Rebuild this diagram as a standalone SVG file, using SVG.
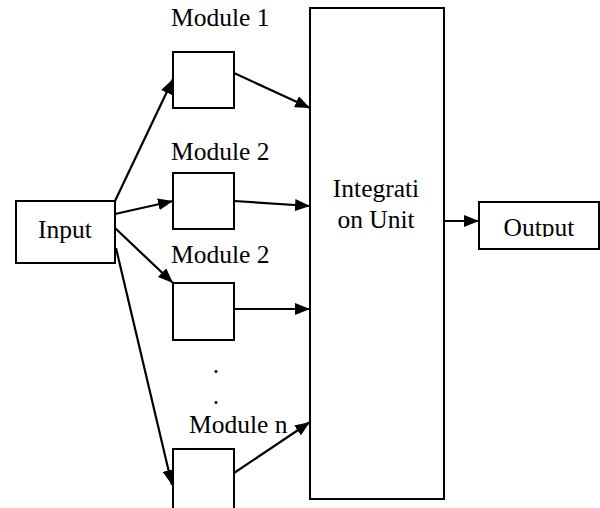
<svg xmlns="http://www.w3.org/2000/svg" width="600" height="508" viewBox="0 0 600 508">
<style>
.box{fill:#fff;stroke:#000;stroke-width:2}
.t{font-family:"Liberation Serif","Times New Roman",serif;font-size:25.5px;fill:#000}
.c{stroke:#000;stroke-width:2.2;fill:none;marker-end:url(#ah)}
</style>
<defs>
<marker id="ah" viewBox="0 0 15 12" refX="15" refY="6" markerWidth="15" markerHeight="12" markerUnits="userSpaceOnUse" orient="auto">
<path d="M0,0 L15,6 L0,12 z" fill="#000"/>
</marker>
<clipPath id="clipOut"><rect x="479" y="202" width="121" height="35"/></clipPath>
</defs>
<rect width="600" height="508" fill="#fff"/>
<g id="connectors">
<line class="c" x1="115" y1="201" x2="173" y2="79"/>
<line class="c" x1="115" y1="214" x2="173" y2="201"/>
<line class="c" x1="115" y1="228" x2="173" y2="283"/>
<line class="c" x1="116" y1="248" x2="172" y2="485"/>
<line class="c" x1="234" y1="73" x2="310" y2="108"/>
<line class="c" x1="234" y1="201" x2="310" y2="206"/>
<line class="c" x1="234" y1="309" x2="310" y2="309"/>
<line class="c" x1="234" y1="473" x2="310" y2="422"/>
<line class="c" x1="444" y1="221" x2="479" y2="221"/>
</g>
<g id="input">
<rect class="box" x="16" y="201" width="99" height="62"/>
<text class="t" x="65" y="238" text-anchor="middle">Input</text>
</g>
<g id="module1">
<rect class="box" x="173" y="52" width="61" height="56"/>
<text class="t" x="171" y="26">Module 1</text>
</g>
<g id="module2a">
<rect class="box" x="173" y="173" width="61" height="56"/>
<text class="t" x="171" y="160">Module 2</text>
</g>
<g id="module2b">
<rect class="box" x="173" y="283" width="61" height="57"/>
<text class="t" x="171" y="263">Module 2</text>
</g>
<g id="dots">
<text class="t" x="216" y="373" text-anchor="middle">.</text>
<text class="t" x="216" y="404" text-anchor="middle">.</text>
</g>
<g id="modulen">
<rect class="box" x="173" y="449" width="61" height="70"/>
<text class="t" x="189" y="433">Module n</text>
</g>
<g id="integration">
<rect class="box" x="310" y="8" width="134" height="491"/>
<text class="t" x="376" y="197" text-anchor="middle">Integrati</text>
<text class="t" x="376" y="228" text-anchor="middle">on Unit</text>
</g>
<g id="output">
<rect class="box" x="479" y="202" width="120" height="47"/>
<text class="t" x="539" y="236" text-anchor="middle" clip-path="url(#clipOut)">Output</text>
</g>
</svg>
